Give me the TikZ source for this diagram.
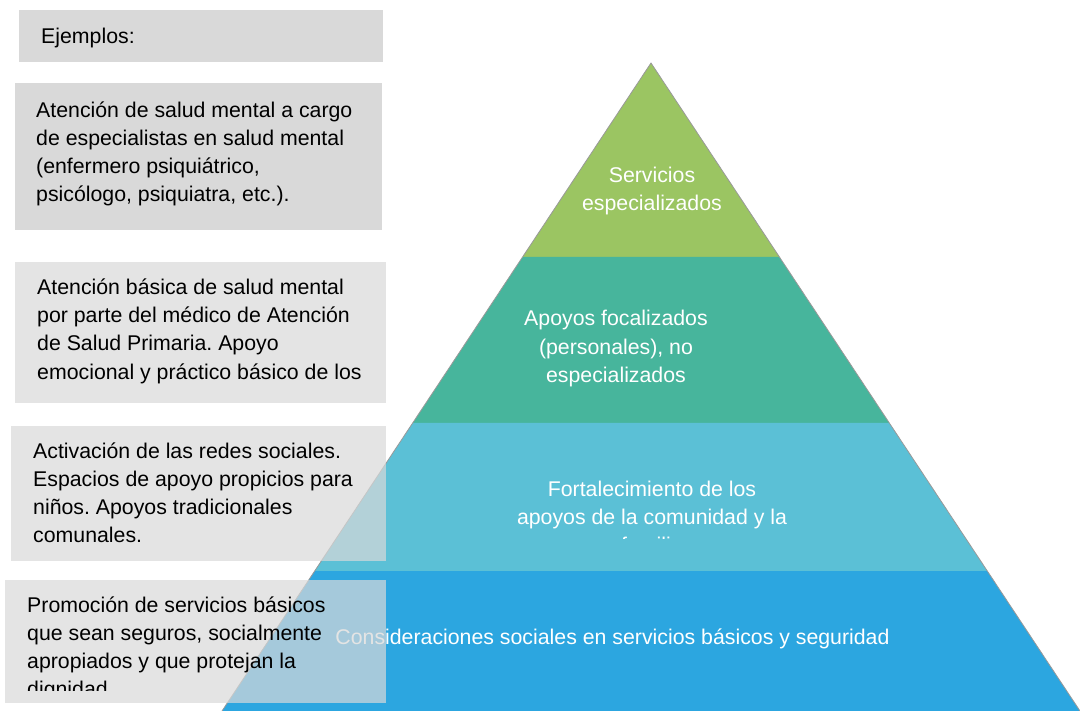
\documentclass[tikz,border=0pt]{standalone}
\usepackage{fontspec}
\setmainfont{Liberation Sans}
\frenchspacing
\usetikzlibrary{positioning}
\definecolor{verde}{HTML}{9BC562}
\definecolor{turquesa}{HTML}{47B59C}
\definecolor{celeste}{HTML}{5BC0D6}
\definecolor{azul}{HTML}{2CA6E0}
\definecolor{gris}{HTML}{D9D9D9}
\newcommand{\letra}{\fontsize{21.3}{28.2}\selectfont}
\tikzstyle{caja} = [fill=gris, anchor=north west, inner sep=0pt]
\tikzstyle{cajatransp} = [caja, fill opacity=0.7]
\tikzstyle{textoej} = [font=\letra, text width=360pt, align=flush left, inner sep=0pt, execute at begin node=\strut]
\tikzstyle{nivel} = [font=\letra, text width=600pt, align=flush center, text=white, inner sep=0pt]
\tikzstyle{borde} = [draw=gray!80, line width=0.8pt]
\begin{document}
\begin{tikzpicture}[x=1pt,y=-1pt]
	\useasboundingbox (0,0) rectangle (1080,711);
	\coordinate (cima) at (651,63);
	\fill[verde] (cima) -- (779.4,257) -- (522.6,257) -- cycle;
	\fill[turquesa] (522.6,257) -- (779.4,257) -- (889.3,423) -- (412.7,423) -- cycle;
	\fill[celeste] (412.7,423) -- (889.3,423) -- (987.3,571) -- (314.7,571) -- cycle;
	\fill[azul] (314.7,571) -- (987.3,571) -- (1080,711) -- (222,711) -- cycle;
	\draw[borde] (222,711) -- (cima) -- (1080,711);
	\node[nivel] (servicios) at (652,191) {Servicios\\especializados};
	\node[nivel] (apoyos) at (616,348.5) {Apoyos focalizados\\(personales), no\\especializados};
	\begin{scope}
		\clip (300,430) rectangle (1000,538.5);
		\node[nivel] (comunidad) at (652,517) {Fortalecimiento de los\\apoyos de la comunidad y la\\familia};
	\end{scope}
	\node[nivel] (basicos) at (612.5,639) {Consideraciones sociales en servicios básicos y seguridad};
	\node[caja, minimum width=364pt, minimum height=52pt] (caja1) at (19,10) {};
	\node[textoej, below right=13.3pt and 22pt of caja1.north west] (ej1) {Ejemplos:};
	\node[caja, minimum width=367pt, minimum height=147pt] (caja2) at (15,83) {};
	\node[textoej, below right=14.3pt and 21pt of caja2.north west] (ej2) {Atención de salud mental a cargo\\de especialistas en salud mental\\(enfermero psiquiátrico,\\psicólogo, psiquiatra, etc.).};
	\node[cajatransp, minimum width=371pt, minimum height=141pt] (caja3) at (15,262) {};
	\node[textoej, below right=12.6pt and 22pt of caja3.north west] (ej3) {Atención básica de salud mental\\por parte del médico de Atención\\de Salud Primaria. Apoyo\\emocional y práctico básico de los};
	\node[cajatransp, minimum width=375pt, minimum height=135pt] (caja4) at (11,426) {};
	\node[textoej, below right=12.3pt and 22pt of caja4.north west] (ej4) {Activación de las redes sociales.\\Espacios de apoyo propicios para\\niños. Apoyos tradicionales\\comunales.};
	\node[cajatransp, minimum width=381pt, minimum height=123pt] (caja5) at (5,580) {};
	\begin{scope}
		\clip (5,580) rectangle (386,690);
		\node[textoej, below right=12.3pt and 22pt of caja5.north west] (ej5) {Promoción de servicios básicos\\que sean seguros, socialmente\\apropiados y que protejan la\\dignidad};
	\end{scope}
\end{tikzpicture}
\end{document}
